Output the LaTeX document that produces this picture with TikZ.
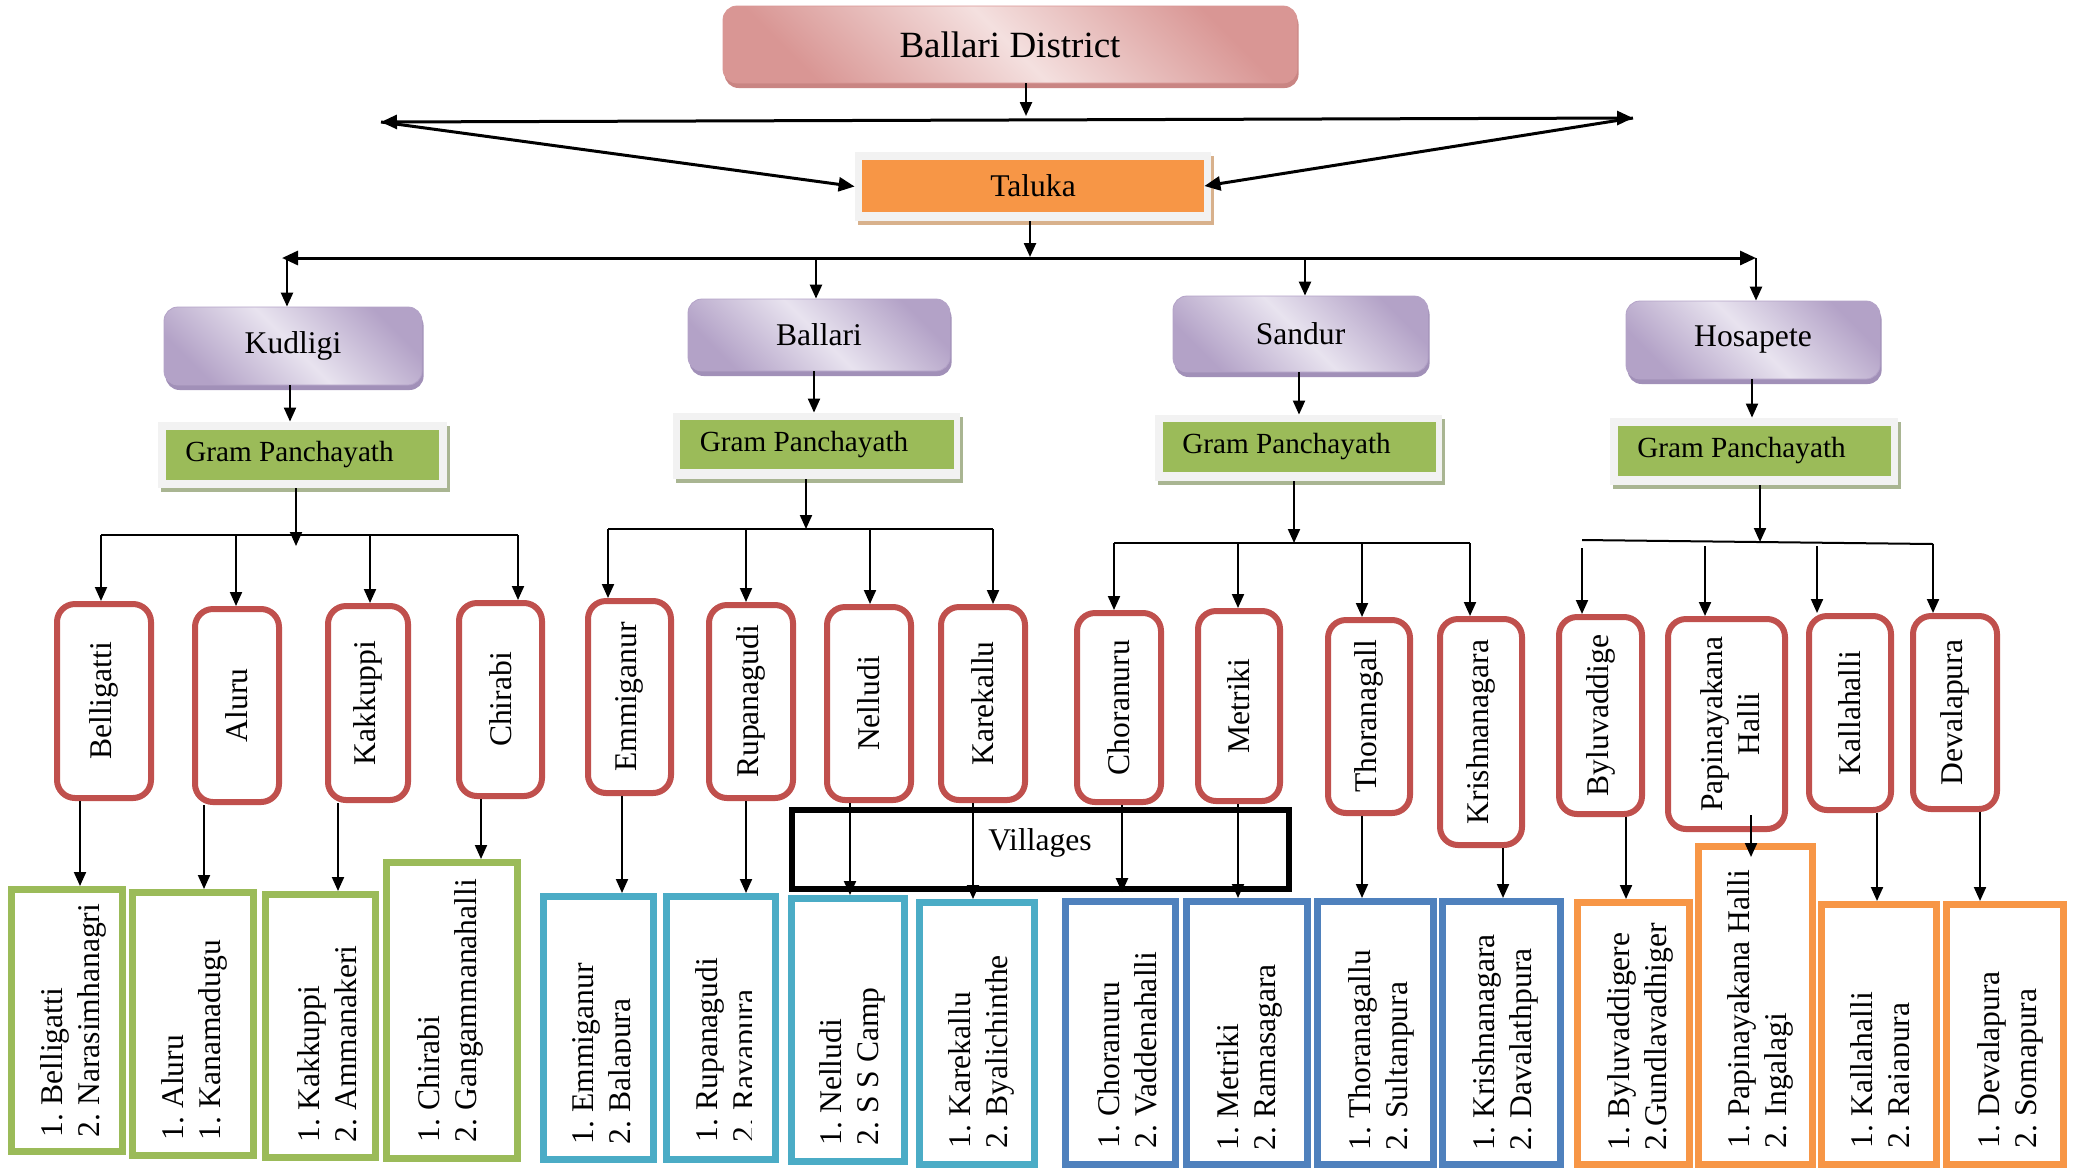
\documentclass[tikz,border=0pt]{standalone}
\usepackage{fontspec}
\setmainfont{Liberation Serif}
\usetikzlibrary{arrows.meta,shadows}
\definecolor{redb}{HTML}{C0504D}
\definecolor{greenb}{HTML}{9BBB59}
\definecolor{tealb}{HTML}{4BACC6}
\definecolor{blueb}{HTML}{4F81BD}
\definecolor{orangeb}{HTML}{F79646}
\definecolor{purpd}{HTML}{B3A2C7}
\definecolor{purpl}{HTML}{E8E3EF}
\definecolor{purpsh}{HTML}{A190B8}
\definecolor{pinkd}{HTML}{D99694}
\definecolor{pinkl}{HTML}{F4E0DF}
\definecolor{pinksh}{HTML}{C98583}
\definecolor{framegray}{HTML}{F2F2F2}
\definecolor{talsh}{HTML}{D8B18C}
\definecolor{gpsh}{HTML}{A9B592}
\newcommand{\mkbox}[8][0]{%
  \pgfmathsetmacro\bxcx{(#4+#6)/2}%
  \pgfmathsetmacro\bxcy{(#5+#7)/2}%
  \pgfmathsetmacro\bxw{(#6-#4-2*#1)/2}%
  \pgfmathsetmacro\bxh{(#7-#5-2*#1)/2}%
  \node[#2, minimum width=\bxw pt, minimum height=\bxh pt] (#3) at (\bxcx,\bxcy) {#8};%
}
\newcommand{\nb}[1]{\makebox[16pt][l]{#1}}
\newcommand{\gptext}{Gram Panchayath\kern13pt\relax}
\tikzset{
 bstyle/.style={inner sep=0pt, font=\fontsize{15.8}{18.5}\selectfont},
 distbox/.style={bstyle, rounded corners=7pt, draw=pinkd, line width=0.4pt, top color=pinkd, bottom color=pinkd, middle color=pinkl, shading angle=-45, drop shadow={shadow xshift=0.8pt, shadow yshift=-2.5pt, fill=pinksh, opacity=1}, font=\fontsize{18.5}{22}\selectfont},
 purpbox/.style={bstyle, rounded corners=7pt, draw=purpd, line width=0.4pt, top color=purpd, bottom color=purpd, middle color=purpl, shading angle=-45, drop shadow={shadow xshift=0.8pt, shadow yshift=-2.5pt, fill=purpsh, opacity=1}},
 talframe/.style={bstyle, fill=framegray, drop shadow={shadow xshift=1.5pt, shadow yshift=-2pt, fill=talsh, opacity=1}},
 talbox/.style={bstyle, fill=orangeb},
 gpframe/.style={bstyle, fill=framegray, drop shadow={shadow xshift=1.5pt, shadow yshift=-2pt, fill=gpsh, opacity=1}},
 gpbox/.style={bstyle, fill=greenb, font=\fontsize{14.6}{17}\selectfont},
 redbox/.style={bstyle, draw=redb, line width=3pt, rounded corners=9pt, fill=white},
 vilbox/.style={bstyle, line width=3.3pt},
 gbox/.style={vilbox, draw=greenb},
 tbox/.style={vilbox, draw=tealb},
 bbox/.style={vilbox, draw=blueb},
 obox/.style={vilbox, draw=orangeb},
 villbox/.style={bstyle, draw=black, line width=3.2pt},
 rtext/.style={bstyle, rotate=90, align=center},
 btext/.style={bstyle, rotate=90, anchor=west, align=left},
 lbl/.style={bstyle},
 toparr/.style={line width=1.5pt, >={Triangle[length=8pt,width=7pt]}},
 medarr/.style={line width=1.2pt},
 thinarr/.style={line width=1pt},
}
\begin{document}
\begin{tikzpicture}[x=0.5pt,y=-0.5pt, >={Triangle[length=7pt,width=6pt]}]
\useasboundingbox (0,0) rectangle (2081,1168);
\fill[white] (0,0) rectangle (2081,1168);

% top level
\mkbox{distbox}{dist}{723}{6}{1297}{83}{Ballari District}
\mkbox{talframe}{talf}{855}{152}{1211}{221}{}
\mkbox{talbox}{tal}{862}{160}{1204}{212}{Taluka}

% taluks
\mkbox{purpbox}{kud}{164}{307}{422}{385}{Kudligi}
\mkbox{purpbox}{bal}{688}{299}{950}{371}{Ballari}
\mkbox{purpbox}{san}{1173}{296}{1428}{372}{Sandur}
\mkbox{purpbox}{hos}{1626}{301}{1880}{379}{Hosapete}

% gram panchayath
\mkbox{gpframe}{gpf1}{158}{422}{447}{488}{}
\mkbox{gpbox}{gp1}{166}{430}{439}{480}{\gptext}
\mkbox{gpframe}{gpf2}{673}{413}{960}{479}{}
\mkbox{gpbox}{gp2}{680}{420}{954}{469}{\gptext}
\mkbox{gpframe}{gpf3}{1155}{415}{1442}{481}{}
\mkbox{gpbox}{gp3}{1163}{422}{1436}{472}{\gptext}
\mkbox{gpframe}{gpf4}{1610}{418}{1898}{485}{}
\mkbox{gpbox}{gp4}{1618}{426}{1891}{476}{\gptext}

% gram panchayath names
\mkbox[3]{redbox}{r1}{54}{601}{154}{801}{}
\mkbox[3]{redbox}{r2}{192}{606}{282}{805}{}
\mkbox[3]{redbox}{r3}{325}{603}{411}{803}{}
\mkbox[3]{redbox}{r4}{456}{600}{545}{799}{}
\mkbox[3]{redbox}{r5}{585}{598}{674}{796}{}
\mkbox[3]{redbox}{r6}{706}{602}{796}{801}{}
\mkbox[3]{redbox}{r7}{824}{604}{914}{803}{}
\mkbox[3]{redbox}{r8}{938}{604}{1028}{803}{}
\mkbox[3]{redbox}{r9}{1074}{610}{1164}{805}{}
\mkbox[3]{redbox}{r10}{1195}{608}{1283}{804}{}
\mkbox[3]{redbox}{r11}{1325}{617}{1413}{816}{}
\mkbox[3]{redbox}{r12}{1437}{616}{1525}{848}{}
\mkbox[3]{redbox}{r13}{1556}{614}{1645}{817}{}
\mkbox[3]{redbox}{r14}{1665}{616}{1788}{832}{}
\mkbox[3]{redbox}{r15}{1806}{613}{1894}{813}{}
\mkbox[3]{redbox}{r16}{1910}{613}{2000}{812}{}
\node[rtext] (r1t) at (r1.center) {Belligatti};
\node[rtext] (r2t) at (r2.center) {Aluru};
\node[rtext] (r3t) at (r3.center) {Kakkuppi};
\node[rtext] (r4t) at (r4.center) {Chirabi};
\node[rtext] (r5t) at (r5.center) {Emmiganur};
\node[rtext] (r6t) at (r6.center) {Rupanagudi};
\node[rtext] (r7t) at (r7.center) {Nelludi};
\node[rtext] (r8t) at (r8.center) {Karekallu};
\node[rtext] (r9t) at (r9.center) {Choranuru};
\node[rtext] (r10t) at (r10.center) {Metriki};
\node[rtext] (r11t) at (r11.center) {Thoranagall};
\node[rtext] (r12t) at (r12.center) {Krishnanagara};
\node[rtext] (r13t) at (r13.center) {Byluvaddige};
\node[rtext] (r14t) at (1730,724) {Papinayakana\\Halli};
\node[rtext] (r15t) at (r15.center) {Kallahalli};
\node[rtext] (r16t) at (r16.center) {Devalapura};

% villages
\mkbox{villbox}{vill}{792}{810}{1289}{889}{}
\node[lbl] (villt) at (1040,843) {Villages};

\mkbox[3.3]{gbox}{b1}{8}{886}{126}{1155}{}
\mkbox[3.3]{gbox}{b2}{129}{889}{257}{1159}{}
\mkbox[3.3]{gbox}{b3}{262}{891}{379}{1161}{}
\mkbox[3.3]{gbox}{b4}{383}{859}{521}{1162}{}
\mkbox[3.3]{tbox}{b5}{540}{893}{657}{1163}{}
\mkbox[3.3]{tbox}{b6}{663}{893}{779}{1163}{}
\mkbox[3.3]{tbox}{b7}{788}{895}{908}{1165}{}
\mkbox[3.3]{tbox}{b8}{916}{899}{1038}{1168}{}
\mkbox[3.3]{bbox}{b9}{1062}{898}{1179}{1168}{}
\mkbox[3.3]{bbox}{b10}{1183}{898}{1311}{1168}{}
\mkbox[3.3]{bbox}{b11}{1314}{898}{1437}{1168}{}
\mkbox[3.3]{bbox}{b12}{1439}{898}{1564}{1168}{}
\mkbox[3.3]{obox}{b13}{1574}{899}{1693}{1168}{}
\mkbox[3.3]{obox}{b14}{1695}{843}{1816}{1168}{}
\mkbox[3.3]{obox}{b15}{1818}{901}{1940}{1168}{}
\mkbox[3.3]{obox}{b16}{1943}{901}{2067}{1168}{}

\node[btext] (b1t) at (73,1138) {\nb{1.}Belligatti\\\nb{2.}Narasimhanagri};
\node[btext] (b2t) at (194,1141) {\nb{1.}Aluru\\\nb{1.}Kanamadugu};
\node[btext] (b3t) at (327,1143) {\nb{1.}Kakkuppi\\\nb{2.}Ammanakeri};
\node[btext] (b4t) at (450,1143) {\nb{1.}Chirabi\\\nb{2.}Gangammanahalli};
\begin{scope}
\clip (540,880) rectangle (630,1168);
\node[btext] (b5t) at (605,1145) {\nb{1.}Emmiganur\\\nb{2.}Balapura};
\end{scope}
\begin{scope}
\clip (663,880) rectangle (751,1168);
\node[btext] (b6t) at (728,1143) {\nb{1.}Rupanagudi\\\nb{2.}Ravapura};
\end{scope}
\node[btext] (b7t) at (852,1146) {\nb{1.}Nelludi\\\nb{2.}S S Camp};
\node[btext] (b8t) at (981,1149) {\nb{1.}Karekallu\\\nb{2.}Byalichinthe};
\node[btext] (b9t) at (1127,1149) {\nb{1.}Choranuru\\\nb{2.}Vaddenahalli};
\node[btext] (b10t) at (1249,1151) {\nb{1.}Metriki\\\nb{2.}Ramasagara};
\node[btext] (b11t) at (1381,1151) {\nb{1.}Thoranagallu\\\nb{2.}Sultanpura};
\node[btext] (b12t) at (1505,1151) {\nb{1.}Krishnanagara\\\nb{2.}Davalathpura};
\node[btext] (b13t) at (1640,1151) {\nb{1.}Byluvaddigere\\2.Gundlavadhiger};
\node[btext] (b14t) at (1760,1149) {\nb{1.}Papinayakana Halli\\\nb{2.}Ingalagi};
\begin{scope}
\clip (1818,880) rectangle (1908,1168);
\node[btext] (b15t) at (1883,1149) {\nb{1.}Kallahalli\\\nb{2.}Rajapura};
\end{scope}
\node[btext] (b16t) at (2010,1149) {\nb{1.}Devalapura\\\nb{2.}Somapura};

% ---- connectors ----
\coordinate (tl) at (381,122);
\coordinate (tr) at (1633,118);
\draw[toparr,<->] (tl) -- (tr);
\draw[toparr,->] (tl) -- (talf.west);
\draw[toparr,->] (tr) -- (tal.east);
\coordinate (dj) at (1026,116);
\draw[medarr,->] (dist.south -| dj) -- (dj);

\coordinate (ml) at (282,258);
\coordinate (mr) at (1756,258);
\draw[toparr,<->] (ml) -- (mr);
\coordinate (tj) at (1030,257);
\draw[medarr,->] (talf.south -| tj) -- (tj);
\draw[medarr,->] (ml -| 287,0) -- (kud.north -| 287,0);
\draw[medarr,->] (ml -| 816,0) -- (bal.north -| 816,0);
\draw[medarr,->] (ml -| 1305,0) -- (san.north -| 1305,0);
\draw[medarr,->] (mr) -- (hos.north -| mr);

\draw[thinarr,->] (kud.south -| 290,0) -- (gpf1.north -| 290,0);
\draw[thinarr,->] (bal.south -| 814,0) -- (gpf2.north -| 814,0);
\draw[thinarr,->] (san.south -| 1299,0) -- (gpf3.north -| 1299,0);
\draw[thinarr,->] (hos.south -| 1752,0) -- (gpf4.north -| 1752,0);

% Kudligi branch
\coordinate (kl) at (101,535);
\coordinate (kr) at (518,535);
\draw[thinarr] (kl) -- (kr);
\coordinate (kj) at (296,546);
\draw[thinarr,->] (gpf1.south -| kj) -- (kj);
\draw[thinarr,->] (kl) -- (r1.north -| kl);
\draw[thinarr,->] (kl -| 236,0) -- (r2.north -| 236,0);
\draw[thinarr,->] (kl -| 370,0) -- (r3.north -| 370,0);
\draw[thinarr,->] (kr) -- (r4.north -| kr);

% Ballari branch
\coordinate (bl) at (608,529);
\coordinate (br) at (993,529);
\draw[thinarr] (bl) -- (br);
\draw[thinarr,->] (gpf2.south -| 806,0) -- (bl -| 806,0);
\draw[thinarr,->] (bl) -- (r5.north -| bl);
\draw[thinarr,->] (bl -| 746,0) -- (r6.north -| 746,0);
\draw[thinarr,->] (bl -| 870,0) -- (r7.north -| 870,0);
\draw[thinarr,->] (br) -- (r8.north -| br);

% Sandur branch
\coordinate (sl) at (1114,543);
\coordinate (sr) at (1470,543);
\draw[thinarr] (sl) -- (sr);
\draw[thinarr,->] (gpf3.south -| 1294,0) -- (sl -| 1294,0);
\draw[thinarr,->] (sl) -- (r9.north -| sl);
\draw[thinarr,->] (sl -| 1238,0) -- (r10.north -| 1238,0);
\draw[thinarr,->] (sl -| 1362,0) -- (r11.north -| 1362,0);
\draw[thinarr,->] (sr) -- (r12.north -| sr);

% Hosapete branch
\coordinate (hl) at (1582,540);
\coordinate (hr) at (1933,544);
\draw[thinarr] (hl) -- (hr);
\coordinate (hj) at (1760,542);
\draw[thinarr,->] (gpf4.south -| hj) -- (hj);
\coordinate (h1) at (1582,548);
\coordinate (h2) at (1705,546);
\coordinate (h3) at (1817,546);
\draw[thinarr,->] (h1) -- (r13.north -| h1);
\draw[thinarr,->] (h2) -- (r14.north -| h2);
\draw[thinarr,->] (h3) -- (r15.north -| h3);
\draw[thinarr,->] (hr) -- (r16.north -| hr);

% down to villages
\foreach \r/\b/\x in {r1/b1/80, r2/b2/204, r3/b3/338, r4/b4/481, r5/b5/622, r6/b6/746, r7/b7/850, r8/b8/973, r10/b10/1238, r11/b11/1362, r12/b12/1503, r13/b13/1626, r15/b15/1877, r16/b16/1980}
  \draw[thinarr,->] (\r.south -| \x,0) -- (\b.north -| \x,0);
\draw[thinarr,->] (r9.south -| 1122,0) -- (vill.south -| 1122,0);
\coordinate (p1) at (1751,815);
\coordinate (p2) at (1751,857);
\draw[thinarr,->] (p1) -- (p2);
\end{tikzpicture}
\end{document}
